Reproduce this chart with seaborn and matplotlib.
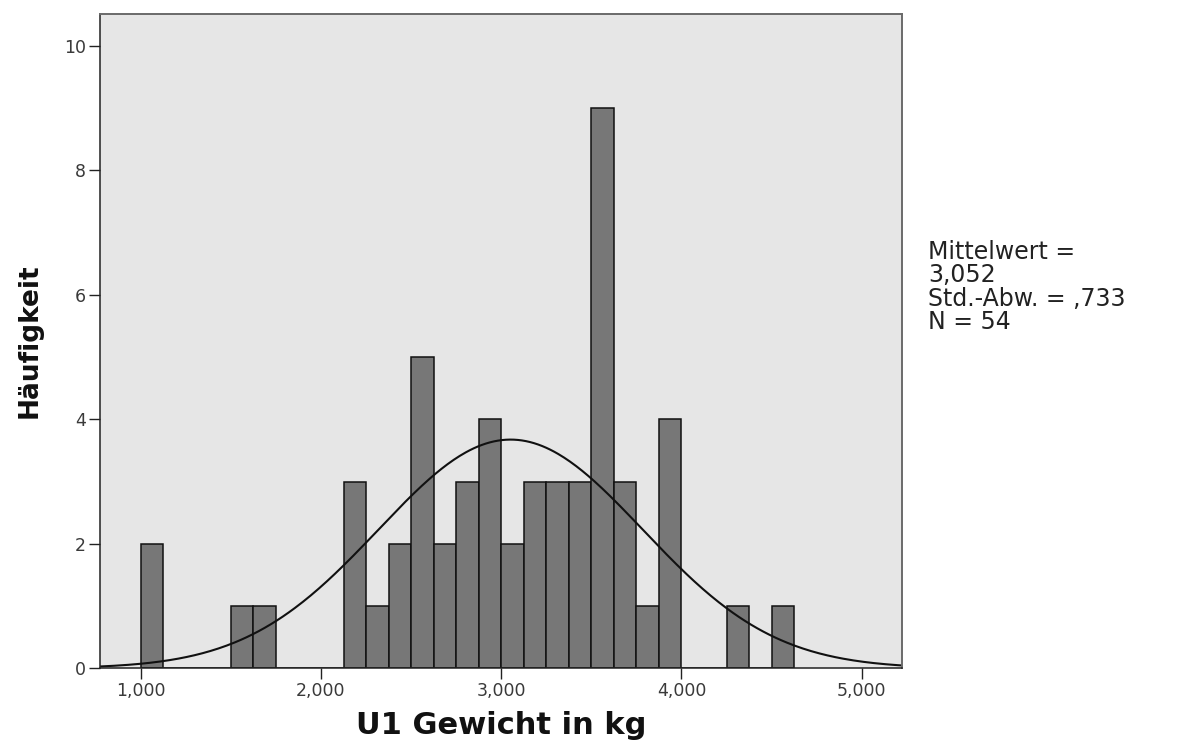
import numpy as np
import pandas as pd
import matplotlib
matplotlib.use("Agg")
import matplotlib.pyplot as plt
import seaborn as sns

# Weight classes (kg, lower edge of each 0.125 kg bin) and their frequencies
bin_lower = [1.000, 1.500, 1.625, 2.125, 2.250, 2.375, 2.500, 2.625, 2.750, 2.875,
             3.000, 3.125, 3.250, 3.375, 3.500, 3.625, 3.750, 3.875, 4.250, 4.500]
counts = [2, 1, 1, 3, 1, 2, 5, 2, 3, 4,
          2, 3, 3, 3, 9, 3, 1, 4, 1, 1]
bin_width = 0.125

# Summary statistics
mean_kg = 3.052
sd_kg = 0.733
n_total = 54

x_ticks = [1.0, 2.0, 3.0, 4.0, 5.0]
y_ticks = [0, 2, 4, 6, 8, 10]

df = pd.DataFrame({"gewicht": np.array(bin_lower) + bin_width / 2, "n": counts})

sns.set_theme(style="white")
plt.rcParams["font.family"] = ["DejaVu Sans"]

fig = plt.figure(figsize=(11.77, 7.43), dpi=100)
ax = fig.add_axes([100 / 1177, 1 - 668.3 / 743, (901.7 - 100) / 1177, (668.3 - 14) / 743])
ax.set_facecolor("#e6e6e6")

sns.histplot(data=df, x="gewicht", weights="n", binwidth=bin_width, binrange=(1.0, 4.625),
             ax=ax, color="#777777", alpha=1.0, edgecolor="#111111", linewidth=1.1)

# Normal curve scaled to the histogram
xmin, xmax = 0.774, 5.222
xs = np.linspace(xmin, xmax, 400)
ys = n_total * bin_width / (sd_kg * np.sqrt(2 * np.pi)) * np.exp(-0.5 * ((xs - mean_kg) / sd_kg) ** 2)
sns.lineplot(x=xs, y=ys, ax=ax, color="#111111", linewidth=1.5)

ax.set_xlim(xmin, xmax)
ax.set_ylim(0, 10.51)
ax.set_xticks(x_ticks)
ax.set_xticklabels([f"{v:.3f}".replace(".", ",") for v in x_ticks])
ax.set_yticks(y_ticks)
ax.set_yticklabels([str(v) for v in y_ticks])
ax.tick_params(axis="both", direction="out", length=8, width=1.0, color="#222222",
               labelsize=12.5, labelcolor="#3a3a3a", pad=2,
               bottom=True, left=True)

for side in ["left", "bottom"]:
    ax.spines[side].set_color("#222222")
    ax.spines[side].set_linewidth(1.1)
for side in ["top", "right"]:
    ax.spines[side].set_color("#6a6a6a")
    ax.spines[side].set_linewidth(1.4)

ax.set_xlabel("U1 Gewicht in kg", fontsize=22, fontweight="bold", color="#111111")
ax.xaxis.set_label_coords(0.5, -0.066)
ax.xaxis.label.set_va("top")
ax.set_ylabel("Häufigkeit", fontsize=19, fontweight="bold", color="#111111")
ax.yaxis.set_label_coords(-0.072, 0.5)

stats_text = ("Mittelwert =\n" + f"{mean_kg:.3f}".replace(".", ",") + "\n"
              "Std.-Abw. = " + f"{sd_kg:.3f}".replace("0.", ",").replace(".", ",") + "\n"
              f"N = {n_total}")
fig.text(928 / 1177, 1 - 240 / 743, stats_text, ha="left", va="top",
         fontsize=17, color="#222222", linespacing=0.97)

fig.savefig("out.png", dpi=100)
